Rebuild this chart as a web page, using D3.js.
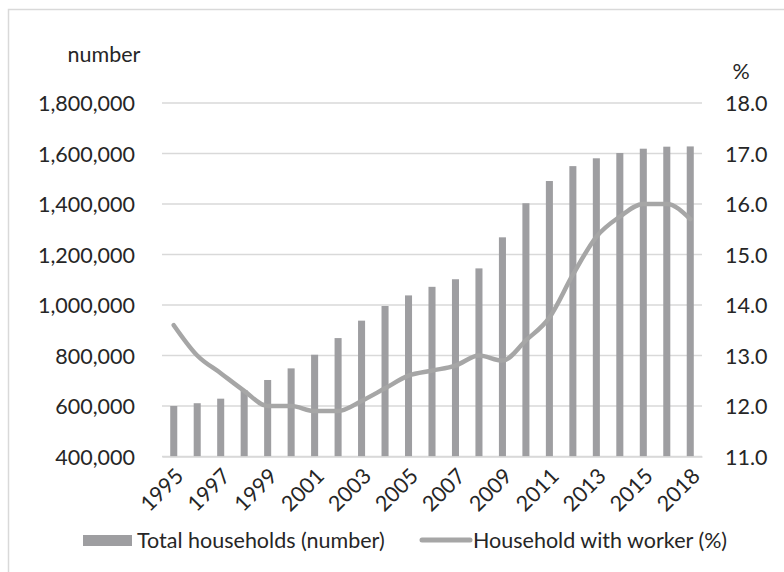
<!DOCTYPE html>
<html>
<head>
<meta charset="utf-8">
<script src="https://cdn.jsdelivr.net/npm/d3@7"></script>
<style>
  body { margin: 0; background: #fff; }
  svg text { font-family: Lato, "Open Sans", sans-serif; fill: #262626; }
</style>
</head>
<body>
<svg class="chart"></svg>
<script>
    // data (2017 is not in the source chart)
    var years = ["1995","1996","1997","1998","1999","2000","2001","2002","2003","2004","2005","2006",
                 "2007","2008","2009","2010","2011","2012","2013","2014","2015","2016","2018"];
    var households = [600000,611000,629000,662000,703000,749000,803000,869000,938000,996000,1038000,1072000,
                      1102000,1145000,1268000,1403000,1491000,1550000,1581000,1602000,1619000,1627000,1628000];
    var workerPct = [13.6,13.0,12.65,12.3,12.0,12.0,11.9,11.9,12.1,12.35,12.6,12.7,
                     12.8,13.0,12.9,13.3,13.75,14.6,15.35,15.75,16.0,16.0,15.7];
    var leftTicks = [400000,600000,800000,1000000,1200000,1400000,1600000,1800000];
    var rightTicks = [11,12,13,14,15,16,17,18];
    var tickYears = ["1995","1997","1999","2001","2003","2005","2007","2009","2011","2013","2015","2018"];

    var width = 784;
    var height = 572;
    var plotL = 162, plotR = 702, plotT = 103, plotB = 456.5;
    var fontSize = "21.5px";
    var barColor = "#9e9ea1";
    var lineColor = "#a6a6a6";

    var svg = d3.select(".chart").attr("width", width).attr("height", height);

    // outer frame of the chart area
    svg.append("rect")
        .attr("x", 8.5).attr("y", 9.5)
        .attr("width", 800).attr("height", 600)
        .attr("fill", "none")
        .attr("stroke", "#d9d9d9")
        .attr("stroke-width", 1.5);

    var x = d3.scaleBand()
        .domain(years)
        .range([plotL, plotR])
        .paddingInner(0.7)
        .paddingOuter(0.35);

    var y = d3.scaleLinear()
        .domain([400000, 1800000])
        .range([plotB, plotT]);

    var y2 = d3.scaleLinear()
        .domain([11, 18])
        .range([plotB, plotT]);

    // gridlines
    svg.append("g")
        .selectAll("line")
        .data(leftTicks)
        .enter().append("line")
        .attr("x1", plotL).attr("x2", plotR)
        .attr("y1", function(d) { return y(d); })
        .attr("y2", function(d) { return y(d); })
        .attr("stroke", "#d9d9d9")
        .attr("stroke-width", 1.5);

    // bars
    svg.append("g")
        .selectAll("rect")
        .data(households)
        .enter().append("rect")
        .attr("x", function(d, i) { return x(years[i]); })
        .attr("width", x.bandwidth())
        .attr("y", function(d) { return y(d); })
        .attr("height", function(d) { return plotB - y(d); })
        .attr("fill", barColor);

    // line
    var line = d3.line()
        .x(function(d, i) { return x(years[i]) + x.bandwidth() / 2; })
        .y(function(d) { return y2(d); })
        .curve(d3.curveMonotoneX);

    svg.append("path")
        .datum(workerPct)
        .attr("d", line)
        .attr("fill", "none")
        .attr("stroke", lineColor)
        .attr("stroke-width", 4.5)
        .attr("stroke-linecap", "round")
        .attr("stroke-linejoin", "round");

    // left axis
    var axisL = svg.append("g")
        .attr("transform", "translate(" + (plotL - 27) + ",0)")
        .call(d3.axisLeft(y).tickValues(leftTicks).tickSize(0).tickPadding(0)
              .tickFormat(d3.format(",")));
    axisL.select(".domain").remove();
    axisL.selectAll("text").style("font-size", fontSize).attr("dy", "0.35em");

    // right axis
    var axisR = svg.append("g")
        .attr("transform", "translate(" + (plotR + 23) + ",0)")
        .call(d3.axisRight(y2).tickValues(rightTicks).tickSize(0).tickPadding(0)
              .tickFormat(d3.format(".1f")));
    axisR.select(".domain").remove();
    axisR.selectAll("text").style("font-size", fontSize).attr("dy", "0.35em");

    // bottom axis with rotated years
    var axisB = svg.append("g")
        .attr("transform", "translate(0," + plotB + ")")
        .call(d3.axisBottom(x).tickValues(tickYears).tickSize(0).tickPadding(0));
    axisB.select(".domain")
        .attr("stroke", "#d9d9d9")
        .attr("stroke-width", 1.5);
    axisB.selectAll("text")
        .style("font-size", fontSize)
        .style("text-anchor", "end")
        .attr("y", 0)
        .attr("dy", 0)
        .attr("transform", "translate(11,21) rotate(-45)");

    // axis titles
    svg.append("text")
        .attr("x", 104).attr("y", 62)
        .style("text-anchor", "middle")
        .style("font-size", fontSize)
        .text("number");

    svg.append("text")
        .attr("x", 741).attr("y", 79)
        .style("text-anchor", "middle")
        .style("font-size", fontSize)
        .text("%");

    // legend
    var legend = svg.append("g");
    legend.append("rect")
        .attr("x", 83).attr("y", 535)
        .attr("width", 49).attr("height", 11)
        .attr("fill", barColor);
    legend.append("text")
        .attr("x", 137).attr("y", 548)
        .style("font-size", fontSize)
        .text("Total households (number)");
    legend.append("line")
        .attr("x1", 422).attr("x2", 470)
        .attr("y1", 540).attr("y2", 540)
        .attr("stroke", lineColor)
        .attr("stroke-width", 5)
        .attr("stroke-linecap", "round");
    legend.append("text")
        .attr("x", 473).attr("y", 548)
        .style("font-size", fontSize)
        .text("Household with worker (%)");
</script>
</body>
</html>
